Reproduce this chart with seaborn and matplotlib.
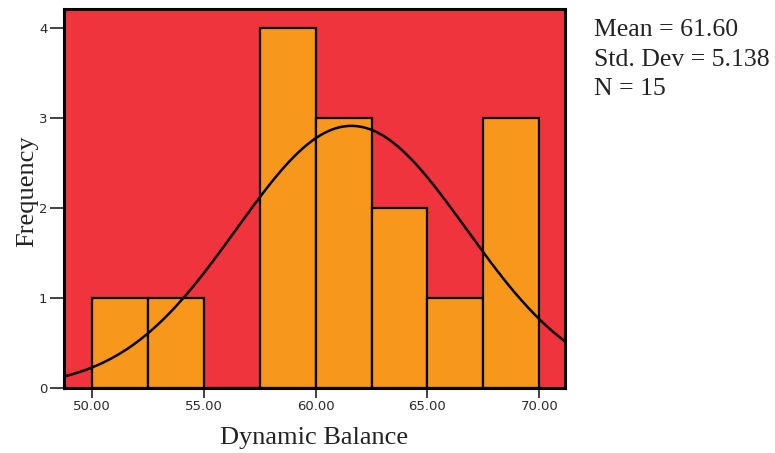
import numpy as np
import pandas as pd
import seaborn as sns
import matplotlib
matplotlib.use("Agg")
import matplotlib.pyplot as plt

# Data
bin_edges = [50.0, 52.5, 55.0, 57.5, 60.0, 62.5, 65.0, 67.5, 70.0]
counts = [1, 1, 0, 4, 3, 2, 1, 3]
mean_val = 61.60
sd_val = 5.138
n_val = 15
x_ticks = [50, 55, 60, 65, 70]
x_tick_labels = ["50.00", "55.00", "60.00", "65.00", "70.00"]
y_ticks = [0, 1, 2, 3, 4]
stats_lines = ["Mean = 61.60", "Std. Dev = 5.138", "N = 15"]

sns.set_style("white")
plt.rcParams['font.family'] = ['DejaVu Sans']

W, H = 775, 453
fig = plt.figure(figsize=(W / 100, H / 100), dpi=100)
ax = fig.add_axes([64 / W, (H - 388) / H, (565 - 64) / W, (388 - 9) / H])

centers = [(a + b) / 2 for a, b in zip(bin_edges[:-1], bin_edges[1:])]
df = pd.DataFrame({"x": centers, "w": counts})
sns.histplot(data=df, x="x", weights="w", bins=bin_edges, ax=ax,
             color="#F7981D", alpha=1.0, edgecolor="black", linewidth=1.6)

xs = np.linspace(48.6, 71.3, 300)
bw = bin_edges[1] - bin_edges[0]
ys = n_val * bw / (sd_val * np.sqrt(2 * np.pi)) * np.exp(-0.5 * ((xs - mean_val) / sd_val) ** 2)
sns.lineplot(x=xs, y=ys, ax=ax, color="black", linewidth=1.8)

ax.set_facecolor("#EF343D")
ax.set_xlim(48.75, 71.15)
ax.set_ylim(0, 4.21)
ax.set_xticks(x_ticks)
ax.set_xticklabels(x_tick_labels, fontsize=9.5, color="#2a2a2a")
ax.set_yticks(y_ticks)
ax.set_yticklabels([str(v) for v in y_ticks], fontsize=9.5, color="#2a2a2a")
ax.tick_params(axis="x", direction="out", length=7, width=1.3, color="#333333", pad=2, bottom=True)
ax.tick_params(axis="y", direction="out", length=10, width=1.3, color="#333333", pad=2, left=True)
for s in ax.spines.values():
    s.set_linewidth(2.2)
    s.set_color("black")

serif = ['Liberation Serif', 'DejaVu Serif']
ax.set_xlabel("Dynamic Balance", fontsize=19, family=serif, color="#222222", labelpad=10)
ax.set_ylabel("Frequency", fontsize=19, family=serif, color="#222222", labelpad=0.5)
ax.yaxis.label.set_y(0.52)

for i, line in enumerate(stats_lines):
    fig.text(594 / W, 1 - (36.5 + 29.3 * i) / H, line,
             fontsize=18.5, family=serif, color="#222222", va="baseline", ha="left")

fig.savefig("out.png", dpi=100)
